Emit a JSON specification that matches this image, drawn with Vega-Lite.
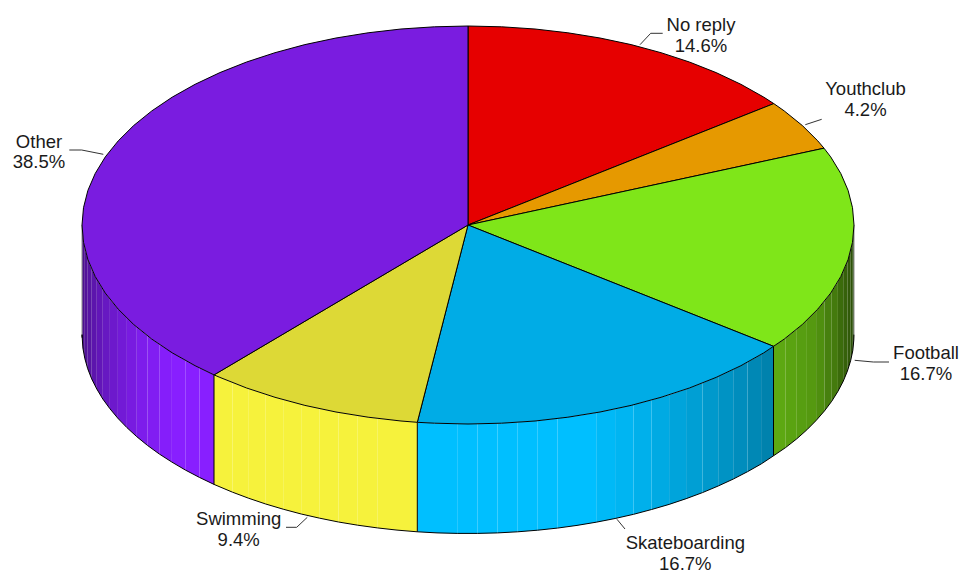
{
"$schema":"https://vega.github.io/schema/vega-lite/v6.json",
"width":968,"height":585,"autosize":{"type":"fit","contains":"padding"},"padding":0,
"background":"white","view":{"stroke":null},
"datasets":{
"wall":[
{"slice":"Football","s":1,"shade":0.66,"x":773.5,"y":346.3,"y2":455.8},{"slice":"Football","s":1,"shade":0.66,"x":785.7,"y":338,"y2":447.5},
{"slice":"Football","s":2,"shade":0.64,"x":785.7,"y":338,"y2":447.5},{"slice":"Football","s":2,"shade":0.64,"x":796.8,"y":329.3,"y2":438.8},
{"slice":"Football","s":3,"shade":0.62,"x":796.8,"y":329.3,"y2":438.8},{"slice":"Football","s":3,"shade":0.62,"x":806.9,"y":320.3,"y2":429.8},
{"slice":"Football","s":4,"shade":0.6,"x":806.9,"y":320.3,"y2":429.8},{"slice":"Football","s":4,"shade":0.6,"x":816.1,"y":311,"y2":420.5},
{"slice":"Football","s":5,"shade":0.56,"x":816.1,"y":311,"y2":420.5},{"slice":"Football","s":5,"shade":0.56,"x":824.4,"y":301.5,"y2":411},
{"slice":"Football","s":6,"shade":0.5,"x":824.4,"y":301.5,"y2":411},{"slice":"Football","s":6,"shade":0.5,"x":831.7,"y":291.8,"y2":401.3},
{"slice":"Football","s":7,"shade":0.48,"x":831.7,"y":291.8,"y2":401.3},{"slice":"Football","s":7,"shade":0.48,"x":837.9,"y":281.9,"y2":391.4},
{"slice":"Football","s":8,"shade":0.42,"x":837.9,"y":281.9,"y2":391.4},{"slice":"Football","s":8,"shade":0.42,"x":843.2,"y":271.8,"y2":381.3},
{"slice":"Football","s":9,"shade":0.38,"x":843.2,"y":271.8,"y2":381.3},{"slice":"Football","s":9,"shade":0.38,"x":847.4,"y":261.6,"y2":371.1},
{"slice":"Football","s":10,"shade":0.35,"x":847.4,"y":261.6,"y2":371.1},{"slice":"Football","s":10,"shade":0.35,"x":850.6,"y":251.3,"y2":360.8},
{"slice":"Football","s":11,"shade":0.32,"x":850.6,"y":251.3,"y2":360.8},{"slice":"Football","s":11,"shade":0.32,"x":852.8,"y":241,"y2":350.5},
{"slice":"Football","s":12,"shade":0.3,"x":852.8,"y":241,"y2":350.5},{"slice":"Football","s":12,"shade":0.3,"x":853.8,"y":230.6,"y2":340.1},
{"slice":"Football","s":13,"shade":0.28,"x":853.8,"y":230.6,"y2":340.1},{"slice":"Football","s":13,"shade":0.28,"x":854,"y":225,"y2":334.5},

{"slice":"Skateboarding","s":1,"shade":0.68,"x":773.5,"y":346.3,"y2":455.8},{"slice":"Skateboarding","s":1,"shade":0.68,"x":761.1,"y":354.5,"y2":464},
{"slice":"Skateboarding","s":2,"shade":0.71,"x":761.1,"y":354.5,"y2":464},{"slice":"Skateboarding","s":2,"shade":0.71,"x":747.5,"y":362.2,"y2":471.7},
{"slice":"Skateboarding","s":3,"shade":0.74,"x":747.5,"y":362.2,"y2":471.7},{"slice":"Skateboarding","s":3,"shade":0.74,"x":733.2,"y":369.6,"y2":479.1},
{"slice":"Skateboarding","s":4,"shade":0.77,"x":733.2,"y":369.6,"y2":479.1},{"slice":"Skateboarding","s":4,"shade":0.77,"x":718.2,"y":376.5,"y2":486},
{"slice":"Skateboarding","s":5,"shade":0.8,"x":718.2,"y":376.5,"y2":486},{"slice":"Skateboarding","s":5,"shade":0.8,"x":702.5,"y":383.1,"y2":492.6},
{"slice":"Skateboarding","s":6,"shade":0.83,"x":702.5,"y":383.1,"y2":492.6},{"slice":"Skateboarding","s":6,"shade":0.83,"x":686.1,"y":389.2,"y2":498.7},
{"slice":"Skateboarding","s":7,"shade":0.86,"x":686.1,"y":389.2,"y2":498.7},{"slice":"Skateboarding","s":7,"shade":0.86,"x":669.1,"y":394.9,"y2":504.4},
{"slice":"Skateboarding","s":8,"shade":0.89,"x":669.1,"y":394.9,"y2":504.4},{"slice":"Skateboarding","s":8,"shade":0.89,"x":651.6,"y":400,"y2":509.5},
{"slice":"Skateboarding","s":9,"shade":0.92,"x":651.6,"y":400,"y2":509.5},{"slice":"Skateboarding","s":9,"shade":0.92,"x":633.6,"y":404.8,"y2":514.3},
{"slice":"Skateboarding","s":10,"shade":0.95,"x":633.6,"y":404.8,"y2":514.3},{"slice":"Skateboarding","s":10,"shade":0.95,"x":615.1,"y":409,"y2":518.5},
{"slice":"Skateboarding","s":11,"shade":0.97,"x":615.1,"y":409,"y2":518.5},{"slice":"Skateboarding","s":11,"shade":0.97,"x":596.2,"y":412.7,"y2":522.2},
{"slice":"Skateboarding","s":12,"shade":1,"x":596.2,"y":412.7,"y2":522.2},{"slice":"Skateboarding","s":12,"shade":1,"x":577,"y":415.9,"y2":525.4},
{"slice":"Skateboarding","s":13,"shade":1,"x":577,"y":415.9,"y2":525.4},{"slice":"Skateboarding","s":13,"shade":1,"x":557.4,"y":418.6,"y2":528.1},
{"slice":"Skateboarding","s":14,"shade":1,"x":557.4,"y":418.6,"y2":528.1},{"slice":"Skateboarding","s":14,"shade":1,"x":537.7,"y":420.7,"y2":530.2},
{"slice":"Skateboarding","s":15,"shade":1,"x":537.7,"y":420.7,"y2":530.2},{"slice":"Skateboarding","s":15,"shade":1,"x":517.7,"y":422.3,"y2":531.8},
{"slice":"Skateboarding","s":16,"shade":1,"x":517.7,"y":422.3,"y2":531.8},{"slice":"Skateboarding","s":16,"shade":1,"x":497.6,"y":423.4,"y2":532.9},
{"slice":"Skateboarding","s":17,"shade":1,"x":497.6,"y":423.4,"y2":532.9},{"slice":"Skateboarding","s":17,"shade":1,"x":477.4,"y":423.9,"y2":533.4},
{"slice":"Skateboarding","s":18,"shade":1,"x":477.4,"y":423.9,"y2":533.4},{"slice":"Skateboarding","s":18,"shade":1,"x":457.2,"y":423.9,"y2":533.4},
{"slice":"Skateboarding","s":19,"shade":1,"x":457.2,"y":423.9,"y2":533.4},{"slice":"Skateboarding","s":19,"shade":1,"x":437,"y":423.4,"y2":532.9},
{"slice":"Skateboarding","s":20,"shade":1,"x":437,"y":423.4,"y2":532.9},{"slice":"Skateboarding","s":20,"shade":1,"x":417.3,"y":422.3,"y2":531.8},

{"slice":"Swimming","s":1,"shade":1,"x":417.3,"y":422.3,"y2":531.8},{"slice":"Swimming","s":1,"shade":1,"x":397,"y":420.6,"y2":530.1},
{"slice":"Swimming","s":2,"shade":1,"x":397,"y":420.6,"y2":530.1},{"slice":"Swimming","s":2,"shade":1,"x":377.3,"y":418.4,"y2":527.9},
{"slice":"Swimming","s":3,"shade":1,"x":377.3,"y":418.4,"y2":527.9},{"slice":"Swimming","s":3,"shade":1,"x":357.7,"y":415.7,"y2":525.2},
{"slice":"Swimming","s":4,"shade":1,"x":357.7,"y":415.7,"y2":525.2},{"slice":"Swimming","s":4,"shade":1,"x":338.5,"y":412.5,"y2":522},
{"slice":"Swimming","s":5,"shade":1,"x":338.5,"y":412.5,"y2":522},{"slice":"Swimming","s":5,"shade":1,"x":319.7,"y":408.7,"y2":518.2},
{"slice":"Swimming","s":6,"shade":1,"x":319.7,"y":408.7,"y2":518.2},{"slice":"Swimming","s":6,"shade":1,"x":301.2,"y":404.5,"y2":514},
{"slice":"Swimming","s":7,"shade":1,"x":301.2,"y":404.5,"y2":514},{"slice":"Swimming","s":7,"shade":1,"x":283.2,"y":399.7,"y2":509.2},
{"slice":"Swimming","s":8,"shade":1,"x":283.2,"y":399.7,"y2":509.2},{"slice":"Swimming","s":8,"shade":1,"x":265.7,"y":394.5,"y2":504},
{"slice":"Swimming","s":9,"shade":1,"x":265.7,"y":394.5,"y2":504},{"slice":"Swimming","s":9,"shade":1,"x":248.8,"y":388.8,"y2":498.3},
{"slice":"Swimming","s":10,"shade":1,"x":248.8,"y":388.8,"y2":498.3},{"slice":"Swimming","s":10,"shade":1,"x":232.5,"y":382.7,"y2":492.2},
{"slice":"Swimming","s":11,"shade":1,"x":232.5,"y":382.7,"y2":492.2},{"slice":"Swimming","s":11,"shade":1,"x":214,"y":374.9,"y2":484.4},

{"slice":"Other","s":1,"shade":1,"x":214,"y":374.9,"y2":484.4},{"slice":"Other","s":1,"shade":1,"x":199.4,"y":367.9,"y2":477.4},
{"slice":"Other","s":2,"shade":1,"x":199.4,"y":367.9,"y2":477.4},{"slice":"Other","s":2,"shade":1,"x":185.3,"y":360.5,"y2":470},
{"slice":"Other","s":3,"shade":1,"x":185.3,"y":360.5,"y2":470},{"slice":"Other","s":3,"shade":1,"x":171.9,"y":352.6,"y2":462.1},
{"slice":"Other","s":4,"shade":0.98,"x":171.9,"y":352.6,"y2":462.1},{"slice":"Other","s":4,"shade":0.98,"x":159.3,"y":344.5,"y2":454},
{"slice":"Other","s":5,"shade":0.95,"x":159.3,"y":344.5,"y2":454},{"slice":"Other","s":5,"shade":0.95,"x":147.6,"y":336,"y2":445.5},
{"slice":"Other","s":6,"shade":0.92,"x":147.6,"y":336,"y2":445.5},{"slice":"Other","s":6,"shade":0.92,"x":136.8,"y":327.2,"y2":436.7},
{"slice":"Other","s":7,"shade":0.88,"x":136.8,"y":327.2,"y2":436.7},{"slice":"Other","s":7,"shade":0.88,"x":126.9,"y":318.1,"y2":427.6},
{"slice":"Other","s":8,"shade":0.84,"x":126.9,"y":318.1,"y2":427.6},{"slice":"Other","s":8,"shade":0.84,"x":117.9,"y":308.8,"y2":418.3},
{"slice":"Other","s":9,"shade":0.8,"x":117.9,"y":308.8,"y2":418.3},{"slice":"Other","s":9,"shade":0.8,"x":109.9,"y":299.2,"y2":408.7},
{"slice":"Other","s":10,"shade":0.76,"x":109.9,"y":299.2,"y2":408.7},{"slice":"Other","s":10,"shade":0.76,"x":102.8,"y":289.5,"y2":399},
{"slice":"Other","s":11,"shade":0.72,"x":102.8,"y":289.5,"y2":399},{"slice":"Other","s":11,"shade":0.72,"x":96.8,"y":279.5,"y2":389},
{"slice":"Other","s":12,"shade":0.68,"x":96.8,"y":279.5,"y2":389},{"slice":"Other","s":12,"shade":0.68,"x":91.7,"y":269.4,"y2":378.9},
{"slice":"Other","s":13,"shade":0.64,"x":91.7,"y":269.4,"y2":378.9},{"slice":"Other","s":13,"shade":0.64,"x":87.7,"y":259.2,"y2":368.7},
{"slice":"Other","s":14,"shade":0.6,"x":87.7,"y":259.2,"y2":368.7},{"slice":"Other","s":14,"shade":0.6,"x":84.8,"y":248.9,"y2":358.4},
{"slice":"Other","s":15,"shade":0.56,"x":84.8,"y":248.9,"y2":358.4},{"slice":"Other","s":15,"shade":0.56,"x":82.9,"y":238.5,"y2":348},
{"slice":"Other","s":16,"shade":0.52,"x":82.9,"y":238.5,"y2":348},{"slice":"Other","s":16,"shade":0.52,"x":82,"y":228.1,"y2":337.6},
{"slice":"Other","s":17,"shade":0.5,"x":82,"y":228.1,"y2":337.6},{"slice":"Other","s":17,"shade":0.5,"x":82,"y":225,"y2":334.5}
],
"edges":[
{"kind":"seam","x":773.5,"y":346.3,"y2":455.8},{"kind":"seam","x":417.3,"y":422.3,"y2":531.8},{"kind":"seam","x":214,"y":374.9,"y2":484.4},
{"kind":"rim","x":82,"y":225,"y2":334.5},{"kind":"rim","x":854,"y":225,"y2":334.5}
],
"top":[
{"slice":"No reply","i":0,"x":468,"y":225},{"slice":"No reply","i":1,"x":468,"y":26},{"slice":"No reply","i":2,"x":501.6,"y":26.8},{"slice":"No reply","i":3,"x":535,"y":29},{"slice":"No reply","i":4,"x":567.9,"y":32.8},{"slice":"No reply","i":5,"x":600,"y":38},{"slice":"No reply","i":6,"x":631.1,"y":44.6},{"slice":"No reply","i":7,"x":661,"y":52.7},{"slice":"No reply","i":8,"x":689.4,"y":62},{"slice":"No reply","i":9,"x":716.1,"y":72.6},{"slice":"No reply","i":10,"x":740.9,"y":84.3},{"slice":"No reply","i":11,"x":763.7,"y":97.1},{"slice":"No reply","i":12,"x":773.8,"y":103.6},{"slice":"No reply","i":13,"x":468,"y":225},
{"slice":"Youthclub","i":0,"x":468,"y":225},{"slice":"Youthclub","i":1,"x":773.8,"y":103.6},{"slice":"Youthclub","i":2,"x":784.2,"y":110.9},{"slice":"Youthclub","i":3,"x":802.3,"y":125.5},{"slice":"Youthclub","i":4,"x":817.8,"y":140.9},{"slice":"Youthclub","i":5,"x":824,"y":148.2},{"slice":"Youthclub","i":6,"x":468,"y":225},
{"slice":"Football","i":0,"x":468,"y":225},{"slice":"Football","i":1,"x":824,"y":148.2},{"slice":"Football","i":2,"x":830.7,"y":156.9},{"slice":"Football","i":3,"x":840.8,"y":173.5},{"slice":"Football","i":4,"x":848.1,"y":190.4},{"slice":"Football","i":5,"x":852.5,"y":207.7},{"slice":"Football","i":6,"x":854,"y":225},{"slice":"Football","i":7,"x":852.5,"y":242.3},{"slice":"Football","i":8,"x":848.1,"y":259.6},{"slice":"Football","i":9,"x":840.8,"y":276.5},{"slice":"Football","i":10,"x":830.7,"y":293.1},{"slice":"Football","i":11,"x":817.8,"y":309.1},{"slice":"Football","i":12,"x":802.3,"y":324.5},{"slice":"Football","i":13,"x":784.2,"y":339.1},{"slice":"Football","i":14,"x":773.5,"y":346.3},{"slice":"Football","i":15,"x":468,"y":225},
{"slice":"Skateboarding","i":0,"x":468,"y":225},{"slice":"Skateboarding","i":1,"x":773.5,"y":346.3},{"slice":"Skateboarding","i":2,"x":763.7,"y":352.9},{"slice":"Skateboarding","i":3,"x":740.9,"y":365.7},{"slice":"Skateboarding","i":4,"x":716.1,"y":377.4},{"slice":"Skateboarding","i":5,"x":689.4,"y":388},{"slice":"Skateboarding","i":6,"x":661,"y":397.3},{"slice":"Skateboarding","i":7,"x":631.1,"y":405.4},{"slice":"Skateboarding","i":8,"x":600,"y":412},{"slice":"Skateboarding","i":9,"x":567.9,"y":417.2},{"slice":"Skateboarding","i":10,"x":535,"y":421},{"slice":"Skateboarding","i":11,"x":501.6,"y":423.2},{"slice":"Skateboarding","i":12,"x":468,"y":424},{"slice":"Skateboarding","i":13,"x":434.4,"y":423.2},{"slice":"Skateboarding","i":14,"x":417.3,"y":422.3},{"slice":"Skateboarding","i":15,"x":468,"y":225},
{"slice":"Swimming","i":0,"x":468,"y":225},{"slice":"Swimming","i":1,"x":417.3,"y":422.3},{"slice":"Swimming","i":2,"x":401,"y":421},{"slice":"Swimming","i":3,"x":368.1,"y":417.2},{"slice":"Swimming","i":4,"x":336,"y":412},{"slice":"Swimming","i":5,"x":304.9,"y":405.4},{"slice":"Swimming","i":6,"x":275,"y":397.3},{"slice":"Swimming","i":7,"x":246.6,"y":388},{"slice":"Swimming","i":8,"x":219.9,"y":377.4},{"slice":"Swimming","i":9,"x":214,"y":374.9},{"slice":"Swimming","i":10,"x":468,"y":225},
{"slice":"Other","i":0,"x":468,"y":225},{"slice":"Other","i":1,"x":214,"y":374.9},{"slice":"Other","i":2,"x":195.1,"y":365.7},{"slice":"Other","i":3,"x":172.3,"y":352.9},{"slice":"Other","i":4,"x":151.8,"y":339.1},{"slice":"Other","i":5,"x":133.7,"y":324.5},{"slice":"Other","i":6,"x":118.2,"y":309.1},{"slice":"Other","i":7,"x":105.3,"y":293.1},{"slice":"Other","i":8,"x":95.2,"y":276.5},{"slice":"Other","i":9,"x":87.9,"y":259.6},{"slice":"Other","i":10,"x":83.5,"y":242.3},{"slice":"Other","i":11,"x":82,"y":225},{"slice":"Other","i":12,"x":83.5,"y":207.7},{"slice":"Other","i":13,"x":87.9,"y":190.4},{"slice":"Other","i":14,"x":95.2,"y":173.5},{"slice":"Other","i":15,"x":105.3,"y":156.9},{"slice":"Other","i":16,"x":118.2,"y":140.9},{"slice":"Other","i":17,"x":133.7,"y":125.5},{"slice":"Other","i":18,"x":151.8,"y":110.9},{"slice":"Other","i":19,"x":172.3,"y":97.1},{"slice":"Other","i":20,"x":195.1,"y":84.3},{"slice":"Other","i":21,"x":219.9,"y":72.6},{"slice":"Other","i":22,"x":246.6,"y":62},{"slice":"Other","i":23,"x":275,"y":52.7},{"slice":"Other","i":24,"x":304.9,"y":44.6},{"slice":"Other","i":25,"x":336,"y":38},{"slice":"Other","i":26,"x":368.1,"y":32.8},{"slice":"Other","i":27,"x":401,"y":29},{"slice":"Other","i":28,"x":434.4,"y":26.8},{"slice":"Other","i":29,"x":468,"y":26},{"slice":"Other","i":30,"x":468,"y":225}
],
"leaders":[
{"slice":"No reply","i":0,"x":640,"y":44.7},{"slice":"No reply","i":1,"x":650.7,"y":33.3},{"slice":"No reply","i":2,"x":662.7,"y":33.3},
{"slice":"Youthclub","i":0,"x":805.3,"y":124.7},{"slice":"Youthclub","i":1,"x":821.7,"y":119.3},
{"slice":"Football","i":0,"x":854.7,"y":360.3},{"slice":"Football","i":1,"x":873.3,"y":362},{"slice":"Football","i":2,"x":889,"y":362},
{"slice":"Skateboarding","i":0,"x":617,"y":519.3},{"slice":"Skateboarding","i":1,"x":625,"y":529},
{"slice":"Swimming","i":0,"x":307.3,"y":517.3},{"slice":"Swimming","i":1,"x":296.7,"y":527.3},{"slice":"Swimming","i":2,"x":286,"y":527.3},
{"slice":"Other","i":0,"x":103.3,"y":154.3},{"slice":"Other","i":1,"x":81.7,"y":150},{"slice":"Other","i":2,"x":69.3,"y":150}
],
"labels":[
{"label":"No reply","x":701,"y":25},{"label":"14.6%","x":701,"y":46},
{"label":"Youthclub","x":865.5,"y":89},{"label":"4.2%","x":865.5,"y":110},
{"label":"Football","x":926,"y":353},{"label":"16.7%","x":926,"y":374},
{"label":"Skateboarding","x":685.3,"y":543},{"label":"16.7%","x":685.3,"y":564},
{"label":"Swimming","x":238.7,"y":519},{"label":"9.4%","x":238.7,"y":540},
{"label":"Other","x":39,"y":142},{"label":"38.5%","x":39,"y":162}
]
},
"encoding":{
"x":{"field":"x","type":"quantitative","axis":null,"scale":{"domain":[0,968],"nice":false,"zero":false}},
"y":{"field":"y","type":"quantitative","axis":null,"stack":null,"scale":{"domain":[585,0],"nice":false,"zero":false}}
},
"layer":[
{"data":{"name":"wall"},"transform":[{"filter":"datum.slice==='Football'"}],"mark":{"type":"area","strokeWidth":0},
 "encoding":{"y2":{"field":"y2"},"detail":{"field":"s"},"color":{"field":"shade","type":"quantitative","legend":null,"scale":{"domain":[0,1],"range":["#000000","#8DFF1B"],"interpolate":"rgb"}}}},
{"data":{"name":"wall"},"transform":[{"filter":"datum.slice==='Skateboarding'"}],"mark":{"type":"area","strokeWidth":0},
 "encoding":{"y2":{"field":"y2"},"detail":{"field":"s"},"color":{"field":"shade","type":"quantitative","legend":null,"scale":{"domain":[0,1],"range":["#000000","#00BFFF"],"interpolate":"rgb"}}}},
{"data":{"name":"wall"},"transform":[{"filter":"datum.slice==='Swimming'"}],"mark":{"type":"area","strokeWidth":0},
 "encoding":{"y2":{"field":"y2"},"detail":{"field":"s"},"color":{"field":"shade","type":"quantitative","legend":null,"scale":{"domain":[0,1],"range":["#000000","#F6F23C"],"interpolate":"rgb"}}}},
{"data":{"name":"wall"},"transform":[{"filter":"datum.slice==='Other'"}],"mark":{"type":"area","strokeWidth":0},
 "encoding":{"y2":{"field":"y2"},"detail":{"field":"s"},"color":{"field":"shade","type":"quantitative","legend":null,"scale":{"domain":[0,1],"range":["#000000","#881FFF"],"interpolate":"rgb"}}}},
{"data":{"name":"wall"},"mark":{"type":"line","stroke":"#000000","strokeWidth":1,"clip":false},
 "encoding":{"y":{"field":"y2","type":"quantitative","axis":null,"stack":null,"scale":{"domain":[585,0],"nice":false,"zero":false}}}},
{"data":{"name":"edges"},"transform":[{"filter":"datum.kind==='rim'"}],"mark":{"type":"rule","stroke":"#8c8c8c","strokeWidth":1},
 "encoding":{"y2":{"field":"y2"}}},
{"data":{"name":"edges"},"transform":[{"filter":"datum.kind==='seam'"}],"mark":{"type":"rule","stroke":"#000000","strokeWidth":1},
 "encoding":{"y2":{"field":"y2"}}},
{"data":{"name":"top"},"mark":{"type":"line","stroke":"#000000","strokeWidth":1,"strokeJoin":"round"},
 "encoding":{"order":{"field":"i","type":"quantitative"},"fill":{"field":"slice","type":"nominal","legend":null,"scale":{"domain":["No reply","Youthclub","Football","Skateboarding","Swimming","Other"],"range":["#E60000","#E69900","#7FE619","#00ACE6","#DDD936","#7A1CE0"]}}}},
{"data":{"name":"leaders"},"mark":{"type":"line","stroke":"#333333","strokeWidth":1},
 "encoding":{"order":{"field":"i","type":"quantitative"},"detail":{"field":"slice"}}},
{"data":{"name":"labels"},"mark":{"type":"text","font":"Liberation Sans","fontSize":18.5,"align":"center","baseline":"middle","fill":"#1a1a1a"},
 "encoding":{"text":{"field":"label"}}}
],
"resolve":{"scale":{"color":"independent"}}
}
